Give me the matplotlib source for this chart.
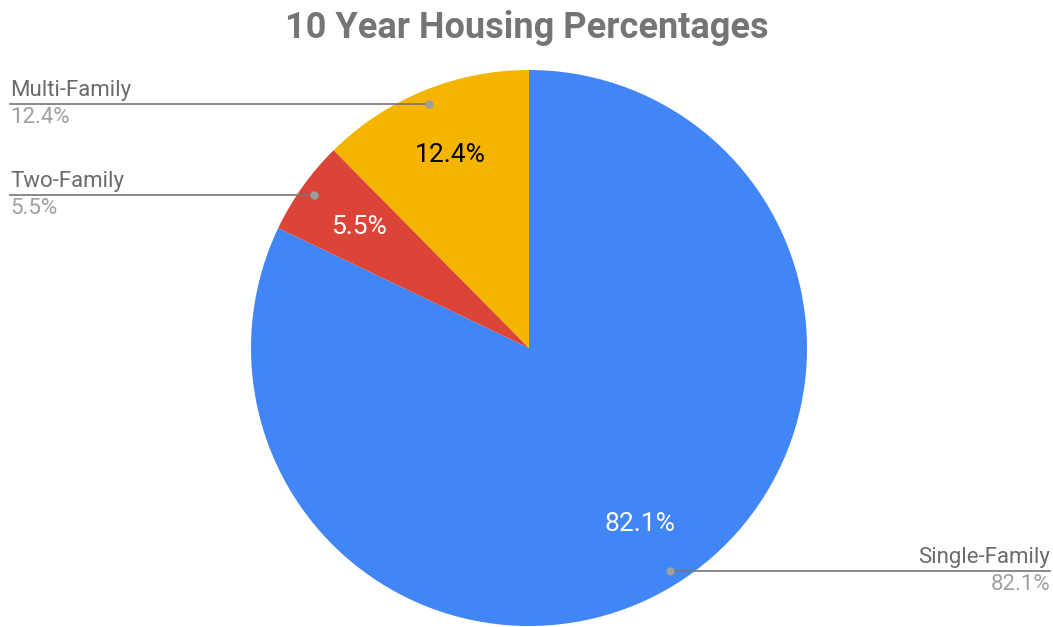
import numpy as np
import matplotlib.pyplot as plt

plt.rcParams['font.family'] = ['Roboto', 'DejaVu Sans']

categories = ['Single-Family', 'Two-Family', 'Multi-Family']
shares = [82.1, 5.5, 12.4]
colors = ['#4285F4', '#DB4437', '#F4B400']
pct_colors = ['white', 'white', 'black']

W, H = 1053, 627
fig = plt.figure(figsize=(W / 100, H / 100), dpi=100)
ax = fig.add_axes([0, 0, 1, 1])

cx, cy, r = 529, H - 348, 278
wedges, _, autotexts = ax.pie(shares, colors=colors, startangle=90, counterclock=False,
                              center=(cx, cy), radius=r, autopct='%.1f%%', pctdistance=0.75,
                              textprops=dict(fontsize=19), frame=True)
ax.axis('off')
ax.set_xlim(0, W)
ax.set_ylim(0, H)
ax.set_aspect('equal')
for t, c in zip(autotexts, pct_colors):
    t.set_color(c)

for w, name, val in zip(wedges, categories, shares):
    ang = np.deg2rad((w.theta1 + w.theta2) / 2)
    px = cx + 0.95 * r * np.cos(ang)
    py = cy + 0.95 * r * np.sin(ang)
    if np.cos(ang) >= 0:
        xe, ha = 1050, 'right'
    else:
        xe, ha = 10, 'left'
    ax.plot([px, xe], [py, py], color='#757575', lw=1.2, zorder=3)
    ax.plot(px, py, 'o', color='#9e9e9e', ms=5, zorder=4)
    ax.text(xe, py + 3, name, ha=ha, va='bottom', fontsize=16, color='#6b6b6b')
    ax.text(xe, py - 3, f'{val}%', ha=ha, va='top', fontsize=16, color='#a0a0a0')

fig.text(0.5, 1 - 28 / H, '10 Year Housing Percentages', ha='center', va='center',
         fontsize=26, fontweight='bold', color='#757575')

fig.savefig('out.png', dpi=100)
